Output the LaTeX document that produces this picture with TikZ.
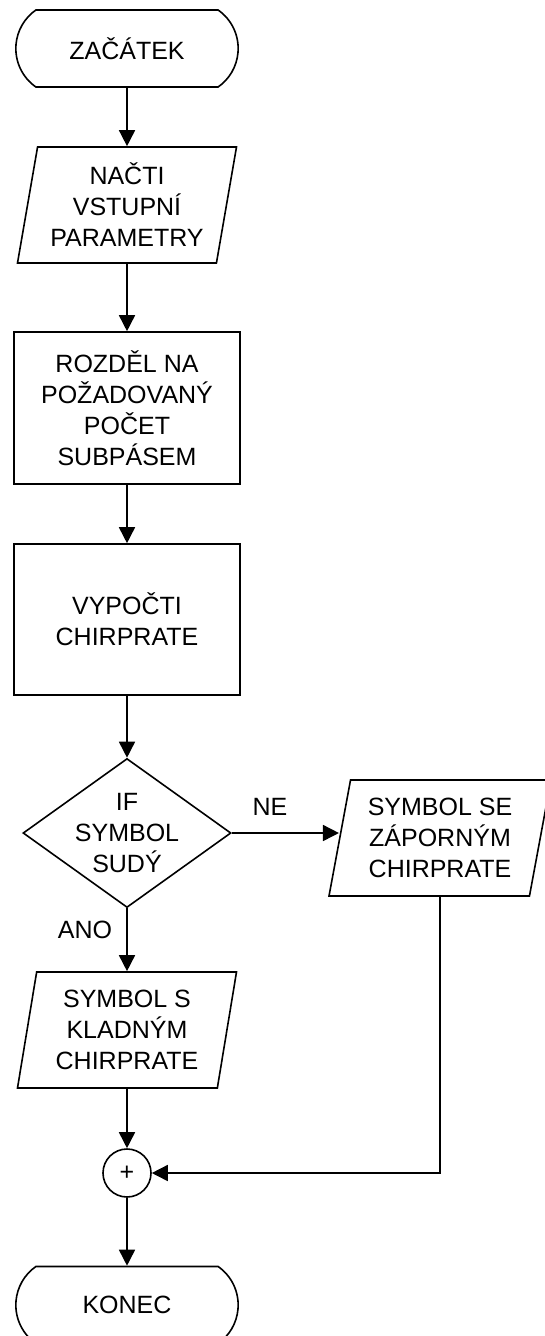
\documentclass[tikz,border=0pt]{standalone}
\usepackage{fontspec}
\setmainfont{Liberation Sans}
\usetikzlibrary{shapes.geometric,shapes.misc,arrows.meta}

\begin{document}
\begin{tikzpicture}[
  x=1pt, y=-1pt,
  every node/.style={font=\fontsize{25}{31}\selectfont, align=center},
  line/.style={line width=1.6pt},
  flow/.style={line, -{Triangle[length=16pt,width=16pt]}},
  terminal/.style={draw, line width=1.6pt, rounded rectangle,
    rounded rectangle arc length=110, minimum width=229pt, minimum height=77pt},
  process/.style={draw, line width=1.6pt, rectangle, minimum width=226pt, minimum height=152pt},
  iobox/.style={draw, line width=1.6pt, trapezium, trapezium left angle=77.5,
    trapezium right angle=102.5, trapezium stretches body,
    minimum height=116pt, minimum width=219pt, inner xsep=2pt},
  decision/.style={draw, line width=1.6pt, diamond, aspect=1.4, inner sep=-6pt,
    minimum width=208pt, minimum height=149pt},
  junction/.style={draw, line width=1.6pt, circle, minimum size=48pt, inner sep=0pt},
  tag/.style={inner sep=0pt}
]
\useasboundingbox (0,0) rectangle (544,1336);

% main column
\node[terminal] (start) at (127,48.5) {ZAČÁTEK};
\node[iobox] (load) at (127,205) {NAČTI\\VSTUPNÍ\\PARAMETRY};
\node[process] (split) at (127,408) {ROZDĚL NA\\POŽADOVANÝ\\POČET\\SUBPÁSEM};
\node[process, minimum height=151pt] (rate) at (127,619.5) {VYPOČTI\\CHIRPRATE};
\node[decision] (even) at (127,833) {IF\\SYMBOL\\SUDÝ};
\node[iobox, trapezium left angle=76, trapezium right angle=104, minimum width=222pt] (neg) at (440,838) {SYMBOL SE\\ZÁPORNÝM\\CHIRPRATE};
\node[iobox] (pos) at (127,1030) {SYMBOL S\\KLADNÝM\\CHIRPRATE};
\node[junction] (sum) at (127,1173) {+};
\node[terminal] (stop) at (127,1305) {KONEC};

% branch labels
\node[tag] (lblne) at (270,807) {NE};
\node[tag] (lblano) at (85,930) {ANO};

% connectors
\draw[flow] (start) -- (load);
\draw[flow] (load) -- (split);
\draw[flow] (split) -- (rate);
\draw[flow] (rate) -- (even);
\draw[flow] (even.east) -- (neg.west |- even.east);
\draw[flow] (even) -- (pos);
\draw[flow] (pos) -- (sum);
\draw[flow] (neg.south) |- (sum.east);
\draw[flow] (sum) -- (stop);
\end{tikzpicture}
\end{document}
